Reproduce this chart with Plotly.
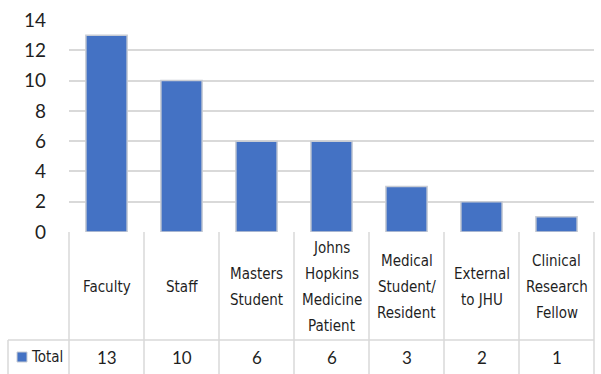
import plotly.graph_objects as go

categories = ["Faculty", "Staff", "Masters Student", "Johns Hopkins Medicine Patient",
              "Medical Student/ Resident", "External to JHU", "Clinical Research Fellow"]
label_lines = [["Faculty"], ["Staff"], ["Masters", "Student"],
               ["Johns", "Hopkins", "Medicine", "Patient"],
               ["Medical", "Student/", "Resident"], ["External", "to JHU"],
               ["Clinical", "Research", "Fellow"]]
values = [13, 10, 6, 6, 3, 2, 1]
series_name = "Total"
y_ticks = [0, 2, 4, 6, 8, 10, 12, 14]

W, H = 601, 374
L, R, T, B = 69, 7, 20, 142
plot_h = H - T - B
plot_w = W - L - R
n = len(categories)

BLUE = "#4472C4"
GRID = "#D9D9D9"
TXT = "#1f1f1f"
NUM_FONT = "Lato, Carlito, Calibri, sans-serif"
NARROW = "DejaVu Sans Condensed, Roboto Condensed, sans-serif"


def py(px):
    return (T + plot_h - px) / plot_h


def pxx(px):
    return (px - L) / plot_w


fig = go.Figure(go.Bar(
    x=list(range(n)), y=values, name=series_name,
    marker=dict(color=BLUE, line=dict(color="#C8CCD4", width=1.5)),
    width=0.55,
))

shapes = []
for i in range(n + 1):
    shapes.append(dict(type="line", xref="paper", yref="paper", x0=i / n, x1=i / n,
                       y0=py(T + plot_h), y1=py(H + 10), line=dict(color=GRID, width=1.5)))
shapes.append(dict(type="line", xref="paper", yref="paper", x0=pxx(8), x1=1,
                   y0=py(340), y1=py(340), line=dict(color=GRID, width=1.5)))
shapes.append(dict(type="line", xref="paper", yref="paper", x0=pxx(8), x1=pxx(8),
                   y0=py(340), y1=py(H + 10), line=dict(color=GRID, width=1.5)))
shapes.append(dict(type="rect", xref="paper", yref="paper", x0=pxx(17), x1=pxx(27),
                   y0=py(362), y1=py(352), fillcolor=BLUE, line=dict(color="#C8CCD4", width=1)))

annotations = []
line_gap = 26
center_y = 287
for i, lines in enumerate(label_lines):
    k = len(lines)
    for j, t in enumerate(lines):
        ypx = center_y + (j - (k - 1) / 2) * line_gap
        annotations.append(dict(text=t, xref="paper", yref="paper", x=(i + 0.5) / n, y=py(ypx),
                                showarrow=False, xanchor="center", yanchor="middle",
                                font=dict(family=NARROW, size=15, color=TXT)))
for i, v in enumerate(values):
    annotations.append(dict(text=str(v), xref="paper", yref="paper", x=(i + 0.5) / n, y=py(357),
                            showarrow=False, xanchor="center", yanchor="middle",
                            font=dict(family=NUM_FONT, size=17, color=TXT)))
annotations.append(dict(text=series_name, xref="paper", yref="paper", x=pxx(29), y=py(357),
                        showarrow=False, xanchor="left", yanchor="middle",
                        font=dict(family=NARROW, size=15, color=TXT)))

fig.update_layout(
    width=W, height=H,
    margin=dict(l=L, r=R, t=T, b=B, pad=0),
    plot_bgcolor="white", paper_bgcolor="white",
    showlegend=False,
    xaxis=dict(range=[-0.5, n - 0.5], showticklabels=False, showgrid=False,
               zeroline=False, showline=False, fixedrange=True),
    yaxis=dict(range=[0, 14], tickvals=y_ticks, showgrid=True, gridcolor=GRID, gridwidth=1.5,
               zeroline=False, showline=False, ticks="", ticklabelstandoff=22,
               tickfont=dict(family=NUM_FONT, size=19, color=TXT)),
    shapes=shapes, annotations=annotations,
)

fig.write_html("out.html")
